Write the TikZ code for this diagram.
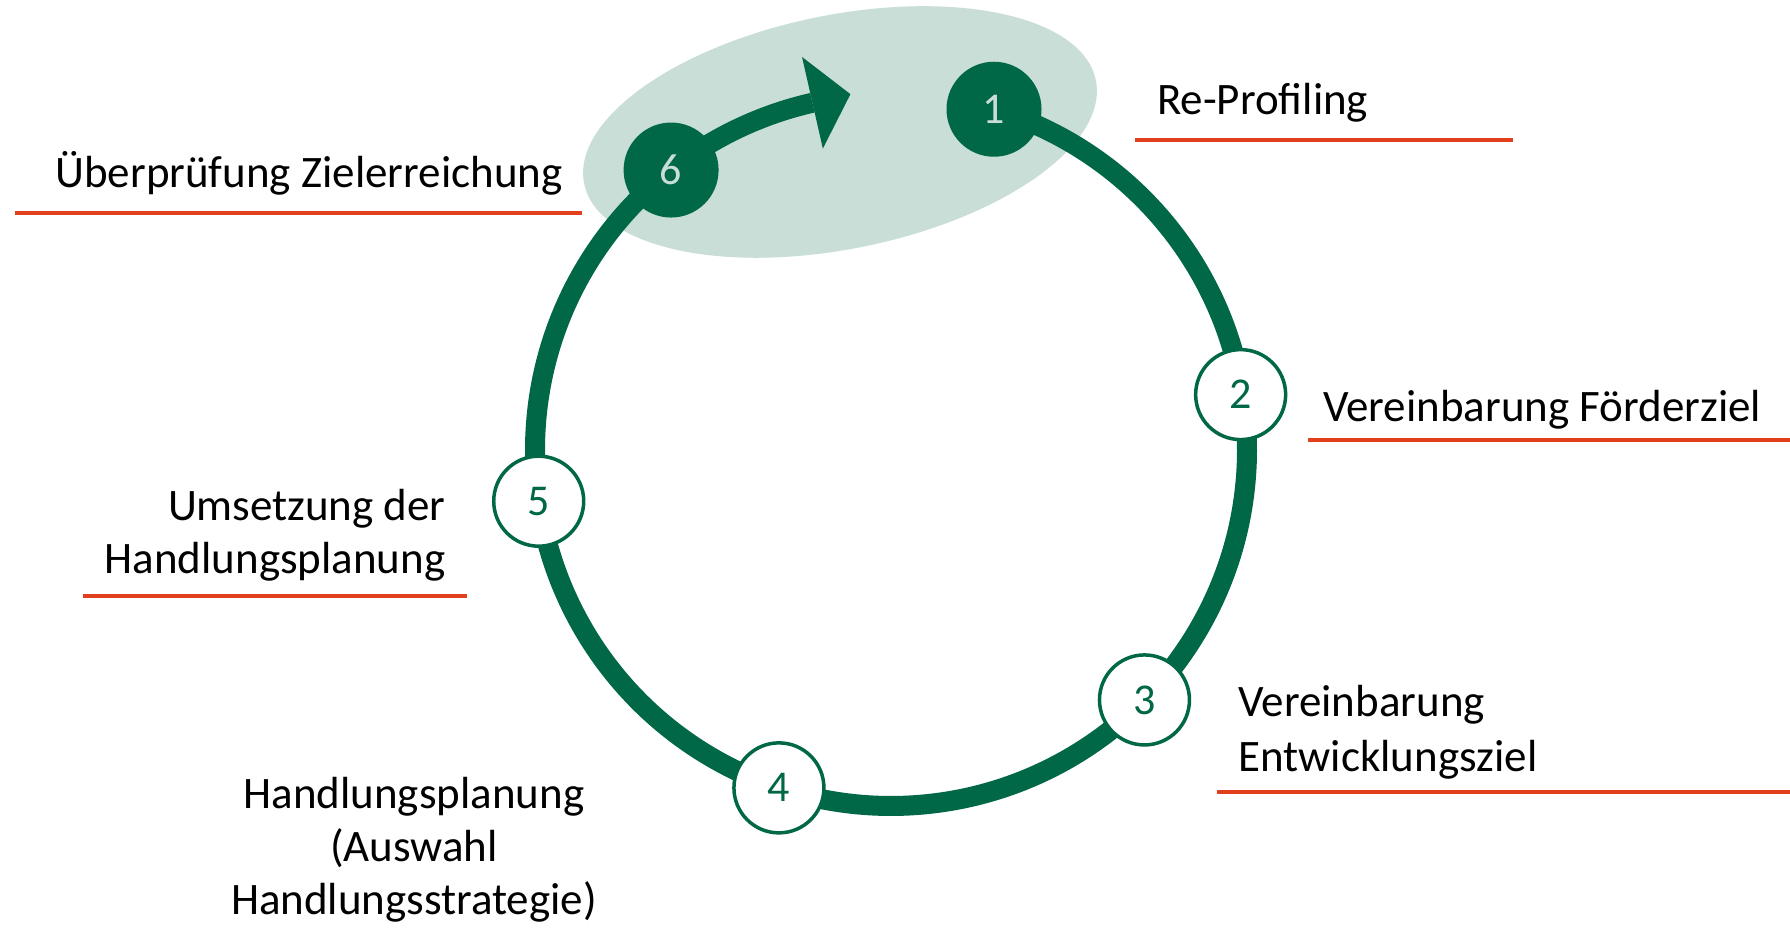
\documentclass[tikz,border=0pt]{standalone}
\usepackage{fontspec}
\setmainfont{Carlito}
\usetikzlibrary{backgrounds}
\definecolor{cycgreen}{RGB}{0,103,71}
\definecolor{haze}{RGB}{200,222,214}
\definecolor{rulered}{RGB}{226,64,28}
\begin{document}
\begin{tikzpicture}[x=0.5pt,y=0.5pt,
  ring/.style={draw=cycgreen, line width=10pt},
  stepdark/.style={circle, fill=cycgreen, text=haze, minimum size=47.5pt,
    inner sep=0pt, font=\fontsize{22pt}{26pt}\selectfont},
  steplight/.style={circle, draw=cycgreen, line width=1.75pt, fill=white,
    text=cycgreen, minimum size=45pt, inner sep=0pt,
    font=\fontsize{22pt}{26pt}\selectfont},
  steptext/.style={text=black, inner sep=0pt, font=\fontsize{22.5pt}{26.6pt}\selectfont},
  ruleline/.style={draw=rulered, line width=2pt}]

\useasboundingbox (0,0) rectangle (1790,935);

% centre of the cycle
\coordinate (C) at (891,485);

% step markers on the ring
\node[stepdark]  (n1) at ([shift={(73.18:356)}]C)   {1};
\node[steplight] (n2) at ([shift={(9.0:354)}]C)     {2};
\node[steplight] (n3) at ([shift={(-44.6:356)}]C)   {3};
\node[steplight] (n4) at ([shift={(-108.35:356)}]C) {4};
\node[steplight] (n5) at ([shift={(-171.73:356)}]C) {5};
\node[stepdark]  (n6) at ([shift={(128.15:356)}]C)  {6};

\begin{pgfonlayer}{background}
  % canvas
  \fill[white] (0,0) rectangle (1790,935);
  % highlighted transition from step 6 back to step 1
  \fill[haze, shift={(840,803)}, rotate=11.4] (0,0) ellipse [x radius=261, y radius=117];
  % ring segments between consecutive steps
  \draw[ring] (n1.center) arc[start angle=73.18,   end angle=9.0,     radius=356];
  \draw[ring] ([shift={(9.0:356)}]C) arc[start angle=9.0, end angle=-44.6, radius=356];
  \draw[ring] (n3.center) arc[start angle=-44.6,   end angle=-108.35, radius=356];
  \draw[ring] (n4.center) arc[start angle=-108.35, end angle=-171.73, radius=356];
  \draw[ring] (n5.center) arc[start angle=-171.73, end angle=-231.85, radius=356];
  \draw[ring] (n6.center) arc[start angle=128.15,  end angle=102.75,  radius=356]
    coordinate (ab);
  % arrowhead
  \coordinate (tip) at ([shift={(38,8.6)}]ab);
  \fill[cycgreen] ([shift={(-10.4,45.8)}]ab) -- (tip)
    -- ([shift={(10.4,-45.8)}]ab) -- cycle;
\end{pgfonlayer}

% step labels with their rules (multi-line labels are anchored on their last line)
\node[steptext, anchor=base west] (t1) at (1156.7,820) {Re-Profiling};
\draw[ruleline] (1135,794.7) -- (1513,794.7);

\node[steptext, anchor=base west] (t2) at (1322.7,513.3) {Vereinbarung Förderziel};
\draw[ruleline] (1308,495) -- (1790,495);

\node[steptext, anchor=base west, align=left,
  font=\fontsize{22.5pt}{27.5pt}\selectfont] (t3) at (1238,163.3)
  {Vereinbarung\\Entwicklungsziel};
\draw[ruleline] (1217,142.7) -- (1790,142.7);

\node[steptext, anchor=base, align=center,
  font=\fontsize{22.5pt}{26.7pt}\selectfont] (t4) at (414,20)
  {Handlungsplanung\\(Auswahl\\Handlungsstrategie)};

\node[steptext, anchor=base east, align=right] (t5) at (446,361.7)
  {Umsetzung der\\Handlungsplanung};
\draw[ruleline] (83.3,339) -- (466.7,339);

\node[steptext, anchor=base west] (t6) at (55,747.7) {Überprüfung Zielerreichung};
\draw[ruleline] (15,722.3) -- (582,722.3);

\end{tikzpicture}
\end{document}
